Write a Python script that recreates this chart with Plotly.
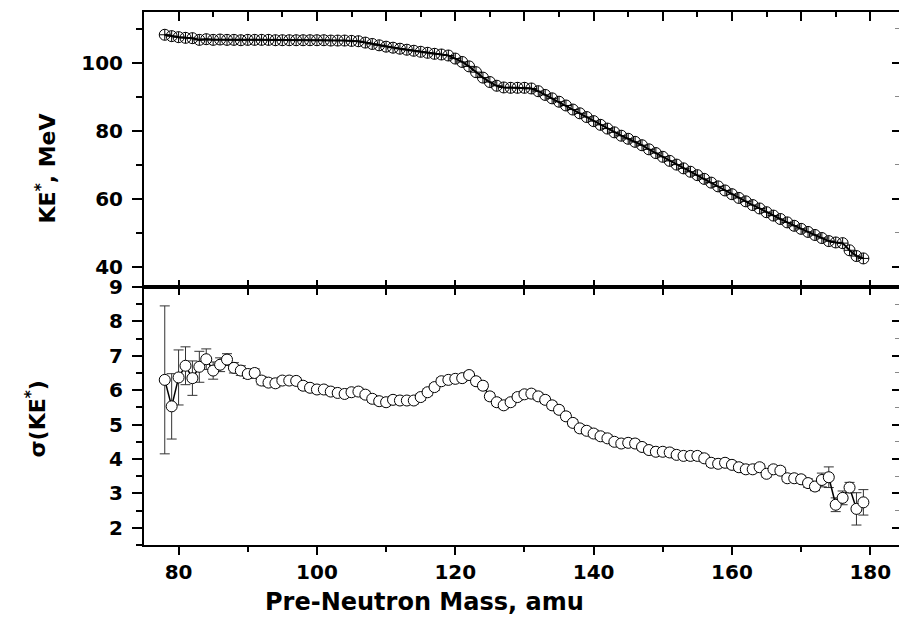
import plotly.graph_objects as go

# ---------------- data ----------------
mass = list(range(78, 180))

ke = [108.3, 107.9, 107.6, 107.4, 107.3, 106.8, 107.0, 106.8, 106.9, 106.8,
      106.8, 106.7, 106.8, 106.8, 106.8, 106.8, 106.7, 106.7, 106.7, 106.7,
      106.7, 106.7, 106.7, 106.7, 106.6, 106.6, 106.6, 106.5, 106.4, 106.0,
      105.6, 105.2, 104.8, 104.5, 104.2, 103.9, 103.6, 103.3, 103.0, 102.7,
      102.5, 102.2, 101.3, 100.3, 99.0, 97.3, 95.7, 94.4, 93.3, 92.8,
      92.7, 92.7, 92.7, 92.5, 91.7, 90.6, 89.6, 88.6, 87.5, 86.3,
      85.2, 84.1, 82.9, 81.8, 80.7, 79.6, 78.6, 77.7, 76.8, 75.8,
      74.6, 73.5, 72.4, 71.2, 70.1, 69.0, 68.0, 67.0, 65.9, 64.8,
      63.7, 62.5, 61.4, 60.3, 59.3, 58.2, 57.2, 56.1, 55.1, 54.1,
      53.1, 52.1, 51.2, 50.3, 49.4, 48.5, 47.6, 47.2, 47.0, 44.9,
      43.2, 42.5]

sigma = [6.30, 5.53, 6.37, 6.71, 6.35, 6.68, 6.90, 6.57, 6.74, 6.89,
         6.65, 6.57, 6.47, 6.50, 6.28, 6.22, 6.20, 6.28, 6.28, 6.27,
         6.13, 6.07, 6.02, 6.02, 5.96, 5.92, 5.89, 5.94, 5.96, 5.87,
         5.75, 5.68, 5.65, 5.72, 5.70, 5.70, 5.70, 5.80, 5.94, 6.09,
         6.26, 6.30, 6.33, 6.35, 6.44, 6.26, 6.13, 5.82, 5.65, 5.56,
         5.65, 5.80, 5.88, 5.90, 5.82, 5.72, 5.56, 5.43, 5.24, 5.05,
         4.89, 4.82, 4.74, 4.66, 4.60, 4.50, 4.45, 4.47, 4.45, 4.35,
         4.26, 4.21, 4.21, 4.19, 4.12, 4.09, 4.09, 4.09, 4.02, 3.89,
         3.86, 3.89, 3.83, 3.76, 3.70, 3.70, 3.76, 3.57, 3.70, 3.66,
         3.44, 3.44, 3.41, 3.30, 3.20, 3.39, 3.47, 2.67, 2.87, 3.17,
         2.55, 2.74]

sigma_err = [2.15, 0.95, 0.80, 0.55, 0.50, 0.45, 0.30, 0.25, 0.20, 0.17,
             0.15, 0.14, 0.13, 0.12, 0.12, 0.11, 0.11, 0.10, 0.10, 0.10,
             0.10, 0.10, 0.10, 0.10, 0.10, 0.10, 0.10, 0.10, 0.10, 0.10,
             0.10, 0.10, 0.10, 0.10, 0.10, 0.10, 0.10, 0.10, 0.10, 0.10,
             0.10, 0.10, 0.10, 0.10, 0.10, 0.10, 0.10, 0.10, 0.10, 0.10,
             0.10, 0.10, 0.10, 0.10, 0.10, 0.10, 0.10, 0.10, 0.10, 0.10,
             0.10, 0.10, 0.10, 0.10, 0.10, 0.10, 0.10, 0.10, 0.10, 0.10,
             0.10, 0.10, 0.10, 0.10, 0.10, 0.10, 0.10, 0.10, 0.10, 0.10,
             0.10, 0.10, 0.10, 0.10, 0.10, 0.10, 0.10, 0.10, 0.10, 0.10,
             0.10, 0.10, 0.10, 0.12, 0.12, 0.20, 0.30, 0.20, 0.20, 0.15,
             0.47, 0.37]

x_tick_vals = [80, 100, 120, 140, 160, 180]
ke_tick_vals = [40, 60, 80, 100]
sigma_tick_vals = [2, 3, 4, 5, 6, 7, 8, 9]

x_title = "Pre-Neutron Mass, amu"
ke_title = "KE<sup>*</sup>, MeV"
sigma_title = "σ(KE<sup>*</sup>)"

# ---------------- styling ----------------
FONT = "DejaVu Sans"
XR = [75, 184.15]
KR = [34.1, 115]
SR = [1.5, 9]
SPLIT = 0.4841

fig = go.Figure()

# bottom panel: sigma
fig.add_trace(go.Scatter(
    x=mass, y=sigma, mode="lines+markers", xaxis="x", yaxis="y",
    line=dict(color="black", width=1.5),
    marker=dict(symbol="circle", size=11, color="white",
                line=dict(color="black", width=1)),
    error_y=dict(type="data", array=sigma_err, color="#333333",
                 thickness=1, width=5),
    showlegend=False, hoverinfo="skip"))

# top panel: KE
fig.add_trace(go.Scatter(
    x=mass, y=ke, mode="lines+markers", xaxis="x2", yaxis="y2",
    line=dict(color="black", width=2),
    marker=dict(symbol="circle-cross-open", size=11, color="black",
                line=dict(color="black", width=1)),
    showlegend=False, hoverinfo="skip"))

# empty traces to create mirror-axis subplots
for xa, ya in [("x3", "y2"), ("x4", "y"), ("x2", "y3"), ("x", "y4")]:
    fig.add_trace(go.Scatter(x=[], y=[], xaxis=xa, yaxis=ya,
                             showlegend=False, hoverinfo="skip"))

tickfont = dict(family=FONT, size=20, color="black", weight="bold")
common = dict(showgrid=False, zeroline=False, showline=True, linecolor="black",
              linewidth=2, tickcolor="black", tickwidth=2)

fig.update_layout(
    width=899, height=627,
    margin=dict(l=144, r=0, t=10, b=82),
    paper_bgcolor="white", plot_bgcolor="white",
    xaxis=dict(domain=[0, 1], anchor="y", range=XR, tickvals=x_tick_vals,
               ticks="outside", ticklen=8, tickfont=tickfont,
               minor=dict(dtick=10, tick0=80, ticks="outside", ticklen=5,
                          tickwidth=2, tickcolor="black"),
               **common),
    yaxis=dict(domain=[0, SPLIT], anchor="x", range=SR, tickvals=sigma_tick_vals,
               ticks="outside", ticklen=10, tickfont=tickfont,
               ticklabelstandoff=5,
               minor=dict(dtick=0.5, tick0=2, ticks="outside", ticklen=6,
                          tickwidth=2, tickcolor="black"),
               **common),
    xaxis2=dict(domain=[0, 1], anchor="y2", range=XR, dtick=10, tick0=80,
                ticks="inside", ticklen=7, showticklabels=False, **common),
    yaxis2=dict(domain=[SPLIT, 1], anchor="x2", range=KR, tickvals=ke_tick_vals,
                ticks="outside", ticklen=10, tickfont=tickfont,
                ticklabelstandoff=5,
                minor=dict(dtick=10, tick0=40, ticks="outside", ticklen=6,
                           tickwidth=2, tickcolor="black"),
                **common),
    xaxis3=dict(overlaying="x2", anchor="y2", side="top", range=XR, dtick=10,
                tick0=80, ticks="inside", ticklen=9, showticklabels=False,
                minor=dict(dtick=5, tick0=80, ticks="inside", ticklen=5,
                           tickwidth=2, tickcolor="black"),
                **common),
    xaxis4=dict(overlaying="x", anchor="y", side="top", range=XR, dtick=10,
                tick0=80, ticks="inside", ticklen=8, showticklabels=False,
                **common),
    yaxis3=dict(overlaying="y2", anchor="x2", side="right", range=KR, dtick=20,
                tick0=40, ticks="inside", ticklen=7, showticklabels=False,
                minor=dict(dtick=10, tick0=40, ticks="inside", ticklen=4,
                           tickwidth=1, tickcolor="#888888"),
                **common),
    yaxis4=dict(overlaying="y", anchor="x", side="right", range=SR, dtick=1,
                tick0=2, ticks="inside", ticklen=7, showticklabels=False,
                minor=dict(dtick=0.5, tick0=2, ticks="inside", ticklen=4,
                           tickwidth=1, tickcolor="#888888"),
                **common),
    annotations=[
        dict(text=x_title, xref="paper", yref="paper", x=0.3709, y=-0.1065,
             showarrow=False, xanchor="center", yanchor="middle",
             font=dict(family=FONT, size=24, color="black", weight="bold")),
        dict(text=ke_title, xref="paper", yref="paper", x=-0.1298, y=0.7065,
             textangle=-90, showarrow=False, xanchor="center", yanchor="middle",
             font=dict(family=FONT, size=22, color="black", weight="bold")),
        dict(text=sigma_title, xref="paper", yref="paper", x=-0.143, y=0.2355,
             textangle=-90, showarrow=False, xanchor="center", yanchor="middle",
             font=dict(family=FONT, size=22, color="black", weight="bold")),
    ],
)

fig.write_html("out.html")
